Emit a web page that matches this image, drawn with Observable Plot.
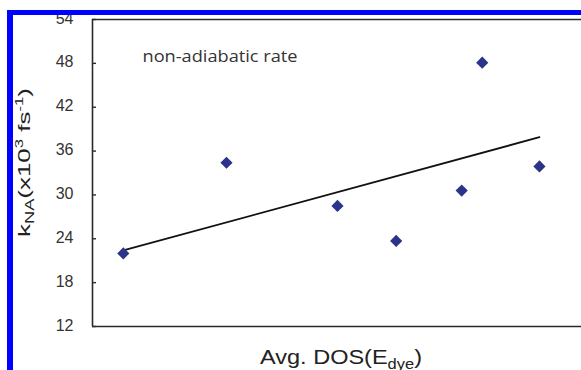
<!DOCTYPE html>
<html>
<head>
<meta charset="utf-8">
<script src="https://cdn.jsdelivr.net/npm/d3@7"></script>
<script src="https://cdn.jsdelivr.net/npm/@observablehq/plot@0.6"></script>
<style>
  html, body { margin: 0; padding: 0; background: #fff; width: 581px; height: 370px; overflow: hidden; }
  #wrap { position: absolute; left: 7px; top: 10px; right: 0; bottom: 0;
          border-left: 6px solid #0000ff; border-top: 5px solid #0000ff;
          overflow: hidden; background: #fff; }
  #chart { position: absolute; left: -13px; top: -15px; }
</style>
</head>
<body>
<div id="wrap"><div id="chart"></div></div>
<script>
// Average DOS (arbitrary units, no x tick labels in the original)
const avgDOS = [0.63, 2.74, 5.01, 6.21, 7.55, 7.97, 9.14];
// Non-adiabatic rate k_NA (x10^3 fs^-1)
const kNA = [22.0, 34.4, 28.5, 23.7, 30.6, 48.1, 33.9];
// Trend line end points
const trendDOS = [0.63, 9.14];
const trendK = [22.4, 37.9];
const yTicks = [12, 18, 24, 30, 36, 42, 48, 54];
const yDomain = [12, 54];
const xDomain = [0, 10];
const note = "non-adiabatic rate";

const points = avgDOS.map((x, i) => ({x, y: kNA[i]}));
const trend = trendDOS.map((x, i) => ({x, y: trendK[i]}));

const frameColor = "#2a2a2a";

const plot = Plot.plot({
  width: 581,
  height: 370,
  marginLeft: 92,
  marginRight: 0,
  marginTop: 19,
  marginBottom: 44,
  x: {domain: xDomain, axis: null},
  y: {domain: yDomain, axis: null},
  style: {fontFamily: "'Liberation Sans', Arial, sans-serif", fontSize: "16px", color: "#333", background: "transparent"},
  marks: [
    Plot.ruleY(yDomain, {stroke: frameColor, strokeWidth: 1.6}),
    Plot.ruleX([xDomain[0]], {stroke: frameColor, strokeWidth: 1.6}),
    // inward tick marks
    Plot.axisY({ticks: yTicks, tickSize: 4, dx: 4, tickFormat: () => "", label: null, stroke: frameColor, strokeWidth: 1.4}),
    // tick labels
    Plot.axisY({ticks: yTicks, tickSize: 0, tickPadding: 19, label: null, fill: "#333", dy: -1}),
    Plot.line(trend, {x: "x", y: "y", stroke: "#111", strokeWidth: 1.8}),
    Plot.dot(points, {x: "x", y: "y", symbol: "diamond2", r: 5.5, fill: "#2b3488", stroke: "none"}),
    Plot.text([note], {frameAnchor: "top-left", dx: 50, dy: 31, fontFamily: "'Open Sans', sans-serif", fontSize: 16, fill: "#333", textAnchor: "start"})
  ]
});
document.getElementById("chart").appendChild(plot);

const svg = d3.select(plot);
// stretch the note to the reference width
svg.selectAll("text").filter(function() { return this.textContent === note; })
  .attr("textLength", 155).attr("lengthAdjust", "spacingAndGlyphs");

// x-axis label: Avg. DOS(E_dye)
const xl = svg.append("text")
  .attr("x", 260).attr("y", 364)
  .attr("text-anchor", "start")
  .attr("fill", "#222")
  .attr("font-family", "'Liberation Sans', Arial, sans-serif")
  .attr("font-size", 20)
  .attr("textLength", 162).attr("lengthAdjust", "spacingAndGlyphs");
xl.append("tspan").text("Avg. DOS(E");
xl.append("tspan").attr("font-size", 14).attr("dy", 5).text("dye");
xl.append("tspan").attr("dy", -5).text(")");

// y-axis label: k_NA (x10^3 fs^-1)
const yl = svg.append("text")
  .attr("transform", "translate(30,237) rotate(-90)")
  .attr("x", 0).attr("y", 0)
  .attr("text-anchor", "start")
  .attr("fill", "#222")
  .attr("font-family", "'Liberation Sans', Arial, sans-serif")
  .attr("font-size", 17)
  .attr("textLength", 149).attr("lengthAdjust", "spacingAndGlyphs");
yl.append("tspan").text("k");
yl.append("tspan").attr("font-size", 12).attr("dy", 4).text("NA");
yl.append("tspan").attr("dy", -4).text("(x10");
yl.append("tspan").attr("font-size", 11).attr("dy", -7).text("3");
yl.append("tspan").attr("dy", 7).text(" fs");
yl.append("tspan").attr("font-size", 11).attr("dy", -7).text("-1");
yl.append("tspan").attr("dy", 7).text(")");
</script>
</body>
</html>
